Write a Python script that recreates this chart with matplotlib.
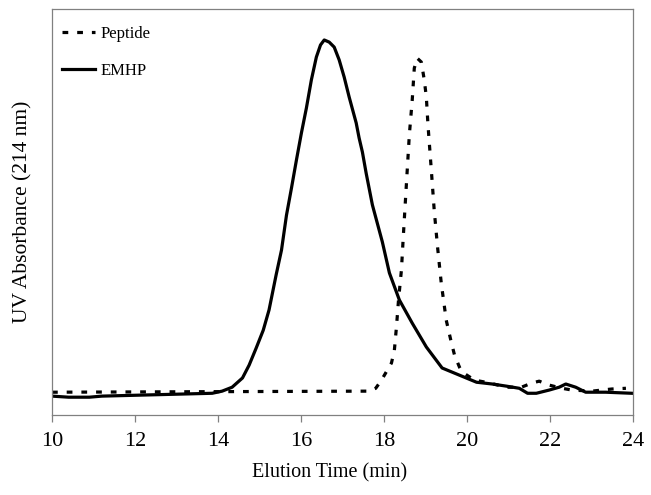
import matplotlib
matplotlib.use("Agg")
import matplotlib.pyplot as plt

plt.rcParams['font.family'] = ['Liberation Serif', 'DejaVu Serif']

# EMHP (solid)
emhp_t = [10.0, 10.4, 10.9, 11.2, 13.86, 14.10, 14.34, 14.59, 14.75, 14.92, 15.09, 15.23,
          15.40, 15.53, 15.65, 15.77, 15.89, 16.01, 16.13, 16.25, 16.37, 16.47, 16.56,
          16.68, 16.80, 16.92, 17.04, 17.16, 17.33, 17.40, 17.48, 17.57, 17.72, 17.96,
          18.13, 18.37, 18.68, 19.02, 19.40, 19.69, 19.98, 20.23, 20.61, 20.95, 21.26,
          21.46, 21.67, 21.98, 22.22, 22.38, 22.62, 22.86, 23.34, 23.97]
emhp_a = [0.0, -0.003, -0.003, 0.0, 0.008, 0.014, 0.025, 0.051, 0.087, 0.135, 0.185, 0.242,
          0.340, 0.410, 0.508, 0.584, 0.663, 0.739, 0.809, 0.888, 0.952, 0.986, 1.0,
          0.994, 0.980, 0.944, 0.896, 0.840, 0.767, 0.725, 0.685, 0.626, 0.537, 0.433,
          0.346, 0.270, 0.205, 0.138, 0.079, 0.065, 0.051, 0.039, 0.034, 0.028, 0.022,
          0.008, 0.008, 0.017, 0.025, 0.034, 0.025, 0.011, 0.011, 0.008]

# Peptide (dashed)
pep_t = [10.0, 17.65, 17.80, 17.94, 18.18, 18.25, 18.30, 18.35, 18.42, 18.46, 18.51, 18.56,
         18.61, 18.68, 18.73, 18.80, 18.90, 18.97, 19.02, 19.06, 19.14, 19.21, 19.29,
         19.38, 19.50, 19.62, 19.70, 19.82, 19.89, 20.18, 20.54, 20.95, 21.31, 21.57,
         21.74, 21.98, 22.29, 22.53, 23.01, 23.49, 23.83]
pep_a = [0.011, 0.014, 0.022, 0.045, 0.093, 0.129, 0.194, 0.270, 0.354, 0.438, 0.537, 0.635,
         0.733, 0.831, 0.921, 0.949, 0.938, 0.888, 0.840, 0.761, 0.635, 0.522, 0.419,
         0.317, 0.213, 0.152, 0.115, 0.081, 0.067, 0.045, 0.037, 0.025, 0.025, 0.037,
         0.042, 0.031, 0.022, 0.017, 0.014, 0.020, 0.022]

xticks = [10, 12, 14, 16, 18, 20, 22, 24]

fig = plt.figure(figsize=(6.51, 4.95), dpi=100)
ax = fig.add_axes([52/651, 1 - 415/495, (633 - 52)/651, (415 - 9)/495])

ax.plot(pep_t, pep_a, color='black', lw=2.3, linestyle=(0, (1.8, 2.8)), label='Peptide')
ax.plot(emhp_t, emhp_a, color='black', lw=2.3, label='EMHP')

ax.set_xlim(10, 24)
ax.set_ylim(-0.053, 1.087)
ax.set_xticks(xticks)
ax.set_xticklabels([str(v) for v in xticks], fontsize=16)
ax.set_yticks([])
for s in ax.spines.values():
    s.set_color('#808080')
    s.set_linewidth(0.9)
ax.tick_params(axis='x', direction='out', length=5, width=0.9, color='#808080', pad=7)

ax.set_xlabel('Elution Time (min)', fontsize=14.5, labelpad=9)
ax.xaxis.label.set_x(0.477)
ax.set_ylabel('UV Absorbance (214 nm)', fontsize=15.5, labelpad=14)

leg = ax.legend(loc='upper left', bbox_to_anchor=(0.0057, 0.974), frameon=False,
                fontsize=12, handlelength=2.0, handletextpad=0.3, labelspacing=1.23,
                borderaxespad=0)

fig.savefig('out.png', dpi=100)
